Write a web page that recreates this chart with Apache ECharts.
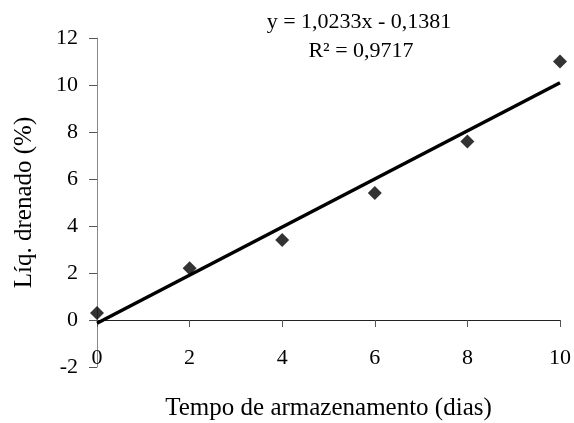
<!DOCTYPE html>
<html>
<head>
<meta charset="utf-8">
<script src="https://cdn.jsdelivr.net/npm/echarts@6/dist/echarts.min.js"></script>
<style>
html,body{margin:0;padding:0;background:#fff;}
#chart{width:574px;height:423px;}
</style>
</head>
<body>
<div id="chart"></div>
<script>
// Data
var days = [0, 2, 4, 6, 8, 10];
var drained = [0.3, 2.2, 3.4, 5.4, 7.6, 11.0];
// Trend line endpoints (from the printed equation y = 1,0233x - 0,1381)
var trendX = [0, 10];
var trendY = [-0.1381, 10.0949];
var equationText = 'y = 1,0233x - 0,1381';
var r2Text = 'R² = 0,9717';
var xTitle = 'Tempo de armazenamento (dias)';
var yTitle = 'Líq. drenado (%)';

var FONT = 'Liberation Serif';
var chart = echarts.init(document.getElementById('chart'), null, {renderer: 'canvas'});

var scatterData = days.map(function (d, i) { return [d, drained[i]]; });
var trendData = trendX.map(function (d, i) { return [d, trendY[i]]; });

chart.setOption({
  backgroundColor: '#ffffff',
  animation: false,
  grid: {left: 97, right: 14, top: 38, bottom: 56, containLabel: false, outerBoundsMode: 'none'},
  xAxis: {
    type: 'value',
    min: 0, max: 10, interval: 2,
    axisLine: {show: true, onZero: true, lineStyle: {color: '#222', width: 1}},
    axisTick: {show: true, length: 7, lineStyle: {color: '#555', width: 1}},
    axisLabel: {margin: -20, fontFamily: FONT, fontSize: 22, color: '#000'},
    splitLine: {show: false},
    name: xTitle,
    nameLocation: 'middle',
    nameGap: 29,
    nameTextStyle: {fontFamily: FONT, fontSize: 25, color: '#000'}
  },
  yAxis: {
    type: 'value',
    min: -2, max: 12, interval: 2,
    axisLine: {show: true, onZero: false, lineStyle: {color: '#888', width: 1}},
    axisTick: {show: true, length: 8, lineStyle: {color: '#555', width: 1}},
    axisLabel: {margin: 19, fontFamily: FONT, fontSize: 22, color: '#000'},
    splitLine: {show: false},
    name: yTitle,
    nameLocation: 'middle',
    nameGap: 60,
    nameRotate: 90,
    nameTextStyle: {fontFamily: FONT, fontSize: 25, color: '#000'}
  },
  graphic: [
    {type: 'text', x: 359, y: 22, style: {text: equationText, fontFamily: FONT, fontSize: 22, fill: '#000', align: 'center', verticalAlign: 'middle'}},
    {type: 'text', x: 361, y: 51, style: {text: r2Text, fontFamily: FONT, fontSize: 22, fill: '#000', align: 'center', verticalAlign: 'middle'}}
  ],
  series: [
    {
      type: 'line',
      data: trendData,
      showSymbol: false,
      symbol: 'none',
      lineStyle: {color: '#000', width: 3.5},
      silent: true,
      z: 2
    },
    {
      type: 'scatter',
      data: scatterData,
      symbol: 'diamond',
      symbolSize: 14,
      itemStyle: {color: '#000'},
      z: 3
    }
  ]
});
</script>
</body>
</html>
